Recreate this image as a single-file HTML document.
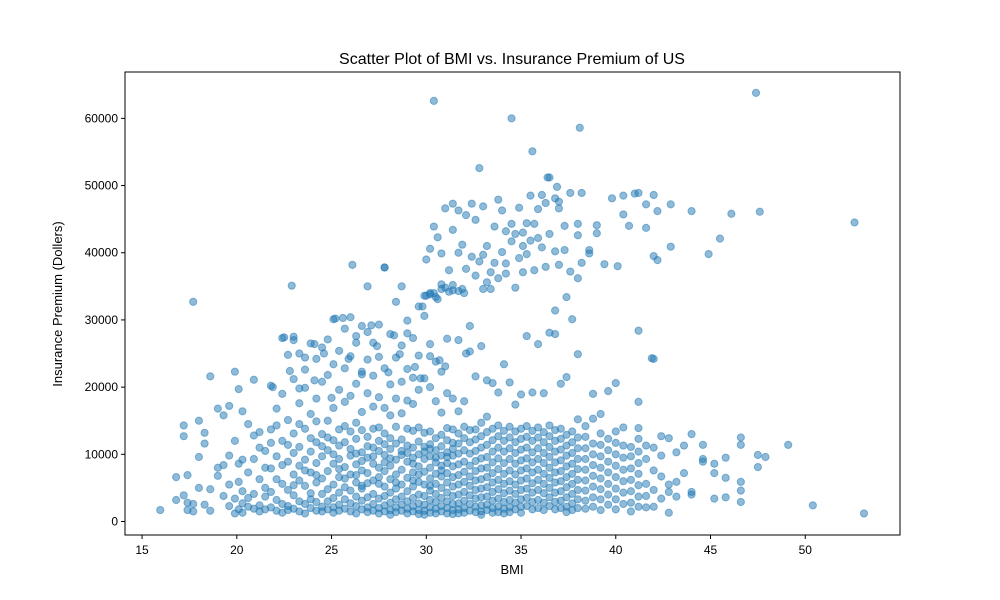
<!DOCTYPE html>
<html><head><meta charset="utf-8"><style>
body{margin:0;background:#fff;}
svg{display:block;font-family:"Liberation Sans","DejaVu Sans",sans-serif;}
</style></head><body>
<svg id="chart" width="1000" height="600">
<rect x="0" y="0" width="1000" height="600" fill="#fff"/>
<text x="512" y="64" text-anchor="middle" font-size="16">Scatter Plot of BMI vs. Insurance Premium of US</text>
<g id="marks"></g>
<rect x="125" y="72" width="775" height="463" fill="none" stroke="#000" stroke-width="1"/>
<g id="xt"></g>
<g id="yt"></g>
<text x="512" y="574" text-anchor="middle" font-size="13">BMI</text>
<text x="0" y="0" transform="translate(62,304) rotate(-90)" text-anchor="middle" font-size="13">Insurance Premium (Dollers)</text>
</svg>
<script>
const xTicks=[15,20,25,30,35,40,45,50];
const yTicks=[0,10000,20000,30000,40000,50000,60000];
// each row: [bmi, [charges...]]
const lowBand=[
[15.96,[1700]],[16.8,[6600,3200]],[17.2,[14300,12700,3900]],[17.4,[6900,2800,1700]],[17.7,[2600,1500]],[18.0,[15000,9600,5000]],[18.3,[13200,11600,2500]],[18.6,[21600,4800,1600]],[19.0,[8000,16800,6800]],[19.3,[8400,15800,3800]],[19.6,[17200,9800,5500,2300]],
[19.9,[22300,12000,3400,1200]],[20.1,[19700,8600,5900,1800]],[20.3,[16400,4500,2700,9200,1300]],[20.6,[14500,7300,2200,3500]],[20.9,[21100,9300,4100,1900,12800]],[21.2,[13300,6300,2400,1500,11000]],[21.5,[10500,5000,3700,1800,8000]],
[21.8,[20200,13700,7900,4400,2100,11700]],[22.1,[16800,9700,6300,3200,1600,14300]],[22.4,[27300,12000,5600,2600,1300,19000,8400]],[22.7,[24800,15100,8900,4700,2300,11400,1700]],[23.0,[27000,21200,13100,7000,3900,1900,10200,5400]],
[23.3,[25000,17600,11100,6100,3000,1500,8300,14500]],[23.6,[22600,13800,9200,5300,2600,1200,19900,7600]],[23.9,[26500,16000,12400,7300,4200,2000,10400,3300]],[24.2,[24200,18300,11800,8700,5800,2900,1600,14900,6900]],
[24.5,[25900,20800,13000,9700,6400,4100,2200,11200,1500]],[24.8,[27100,21800,15000,10600,7500,4800,3000,1800,12500]],[25.1,[30100,23400,16900,12100,8600,5500,3500,2100,1300,10000]],[25.4,[25400,19600,13700,9300,6600,4300,2500,1600,11300,7800]],
[25.7,[28700,22800,17800,11800,8100,5100,3300,1900,14200,6400]],[26.0,[30400,24600,18700,13400,9800,7000,4600,2700,1500,10800]],[26.3,[26600,20500,14700,12300,8500,5800,3700,2300,1200,10100,6900]],
[26.6,[29100,22300,16300,13600,10300,7600,4900,3100,1800,9000,5300]],[26.9,[28200,24100,19100,12600,9500,7200,5700,3600,2100,1400,11200]],[27.2,[26600,21700,17100,13800,11000,8600,6100,4100,2600,1600,9700]],
[27.5,[29300,24500,18500,14000,10500,8000,5600,3400,2000,1200,12000,6600]],[27.8,[37800,22800,16900,13100,9900,7500,5200,3800,2400,1500,11500,8800]],[28.1,[27900,20400,15800,12400,10800,8300,6300,4300,2800,1700,1000,9400]],
[28.4,[32700,24400,18300,14100,11600,9200,7000,4900,3300,2100,1400,5800]],[28.7,[35000,26200,20800,16100,12200,9900,7700,5500,3700,2500,1600,10500]],[29.0,[29900,22700,18000,13800,11300,8900,6500,4500,3000,1900,1200,10200]],
[29.3,[27300,21400,17500,13500,11000,8600,7300,5200,3500,2300,1500,9500,6100]],[29.6,[32000,24700,19600,14000,11900,10000,8200,5900,4000,2700,1700,1100,7000]],[29.9,[33600,30600,21300,13200,11100,9300,7400,5500,3800,2500,1600,1000,10400]],
[30.2,[34000,26400,20000,13400,11500,9700,8000,6400,4600,3200,2100,1300,10800,5300]],[30.5,[33400,23800,17900,12400,10600,8800,7100,5600,4100,2900,1900,1200,9500]],[30.8,[34600,22300,16200,12900,11200,9800,8300,6700,5000,3500,2300,1500,7600]],
[31.1,[27200,19100,13900,12100,10300,8700,7200,5800,4300,3000,2000,1200,9600]],[31.4,[34400,18300,13700,11700,9800,8200,6600,5200,3800,2600,1700,1100,10800]],[31.7,[27000,16400,13100,11600,10100,8500,6900,5500,4000,2700,1800,1200]],
[32.0,[34000,17900,14100,12400,10600,8900,7400,5900,4400,3100,2000,1300]],[32.3,[29100,25300,13600,11800,10100,8300,6700,5300,3900,2600,1600]],[32.6,[21600,13700,12200,10500,9000,7500,6100,4700,3400,2200,1400]],
[32.9,[26100,14700,12700,11000,9400,7900,6300,4900,3600,2400,1500,1000]],[33.2,[21000,15600,13300,11400,9600,8000,6600,5100,3700,2500,1700]],[33.5,[20600,13800,12100,10400,8800,7200,5800,4400,3100,2000,1300]],
[33.8,[19200,14300,12700,11000,9400,7800,6200,4800,3400,2200,1400]],[34.1,[23400,13500,12000,10400,8700,7100,5600,4200,2900,1900,1200]],[34.4,[20700,14100,12500,10900,9300,7600,6000,4600,3200,2100,1400]],
[34.7,[17400,13400,11800,10200,8600,7000,5500,4100,2800,1800]],[35.0,[18900,13800,12300,10700,9100,7600,6100,4700,3300,2200,1300]],[35.3,[27600,14200,12600,11000,9400,7900,6400,4900,3500,2300]],
[35.6,[19200,13500,12000,10300,8800,7300,5700,4300,2900,1800]],[35.9,[26400,14000,12500,10900,9300,7700,6200,4700,3200,2000]],[36.2,[19100,13300,11800,10200,8700,7100,5600,4200,2800,1700]],
[36.5,[28100,14300,12700,11100,9600,8000,6500,5000,3600,2300]],[36.8,[27900,31400,13600,12000,10400,8800,7300,5800,4300,2900,1800]],[37.1,[20500,13800,12300,10700,9100,7500,6000,4500,3100,2000]],
[37.4,[21500,33400,12900,11300,9800,8200,6600,5100,3600,2200,1400]],[37.7,[30100,13400,11800,10200,8600,7100,5600,4100,2700,1700]],[38.0,[24900,15200,12500,10900,9300,7800,6200,4700,3300,2000]],
[38.4,[14200,12600,10900,9300,7700,6100,4600,3100,1900]],[38.8,[19000,15300,11600,10000,8400,6800,5200,3600,2200]],[39.2,[16000,13100,11400,9700,8000,6400,4800,3300,1700]],
[39.6,[19400,12300,10600,8900,7300,5600,4000,2500]],[40.0,[20600,13400,11700,10000,8300,6600,4900,3300,1800]],[40.4,[14000,11300,9500,7700,6000,4300,2600]],
[40.8,[11100,9700,7900,6200,4500,2800,1500]],[41.2,[17800,13900,12300,10400,8700,7100,5400,3700,2200]],[41.6,[11300,9300,5600,3800,2100]],
[42.0,[24200,11000,7600,4700,2200]],[42.4,[12700,9800,6700,3400]],[42.8,[12400,5500,1300,4400]],[43.2,[10300,5900,3700]],[43.6,[11300,7200]],[44.0,[13000,4400,4000]],
[44.6,[11400,9300,8900]],[45.2,[8600,7200,3400]],[45.8,[9500,6500,3600]],[46.6,[12500,11400,5900,4600,2900]],[47.5,[8100,9900]],[47.9,[9600]],[49.1,[11400]],[50.4,[2400]],[53.1,[1200]]
];
const midBand=[
[17.7,[32700]],[22.9,[35100]],[26.1,[38200]],[27.8,[37800]],[26.9,[35000]],[25.2,[30200]],[25.6,[30300]],[22.5,[27400]],[23.0,[27500]],[24.1,[26400]],[26.3,[27600]],[27.1,[29200]],
[28.3,[27700]],[29.0,[28000]],[24.6,[25000]],[23.6,[24400]],[22.8,[22400]],[25.9,[24200]],[27.4,[26100]],[28.6,[24900]],[29.4,[23000]],[30.2,[24600]],[30.7,[24000]],[26.6,[21900]],
[24.1,[21000]],[28.0,[22200]],[23.3,[19800]],[21.9,[20000]],[25.0,[18400]],[29.7,[21300]],[31.0,[23100]],[32.1,[25000]]
];
const highBand=[
[29.8,[32000]],[30.0,[33600,39000]],[30.2,[33800,40600]],[30.4,[34000,43900]],[30.6,[33100,42300]],[30.8,[35300,39900]],[31.0,[34800,46600]],[31.2,[34200,37400]],[31.4,[35200,43400,47300]],
[31.7,[34300,40000,46300]],[31.9,[34600,41200]],[32.1,[37600,45600]],[32.4,[39400,47300]],[32.6,[44900,36600]],[32.8,[52600,38700]],[33.0,[39700,46900,34600]],[33.2,[35600,41000]],
[33.4,[34600,37100]],[33.6,[38500,43900]],[33.8,[47900,36200]],[34.0,[40100,46300]],[34.2,[43200,38400,36900]],[34.5,[41700,44300]],[34.7,[34800,42800]],[34.9,[46700,39200]],
[35.1,[41000,43000,37100]],[35.3,[39800,44400]],[35.5,[48500,41800]],[35.7,[37400,44300]],[35.9,[42200,46500]],[36.1,[40800,48600]],[36.3,[47400,37900]],[36.5,[42800,51200]],
[36.8,[40200,48100]],[37.0,[38200,46600,47600]],[37.3,[40400,44000]],[37.6,[37200,48900]],[38.0,[44300,36200,42600]],[38.2,[48900,38500]],[38.6,[40400,39900]],[39.0,[44100,42900]],
[39.4,[38300]],[39.8,[48100]],[40.1,[38000]],[40.4,[45700,48500]],[40.7,[44000]],[41.0,[48800]],[41.2,[48900]],[41.6,[47200,43700]],[42.0,[48600,39500]],[42.2,[46200,38900]],
[42.9,[47200,40900]],[44.0,[46200]],[44.9,[39800]],[45.5,[42100]],[46.1,[45800]],[47.6,[46100]],[52.6,[44500]]
];
const outliers=[
[30.4,[62600]],[34.5,[60000]],[35.6,[55100]],[38.1,[58600]],[47.4,[63800]],[36.4,[51200]],[36.9,[49800]],[41.2,[28400]],[41.9,[24300]]
];
const X0=125,X1=900,Y0=72,Y1=535,xmin=14.1,xmax=55.0,ymin=-2010,ymax=66902;
const sx=v=>X0+(v-xmin)/(xmax-xmin)*(X1-X0);
const sy=v=>Y1-(v-ymin)/(ymax-ymin)*(Y1-Y0);
const NS="http://www.w3.org/2000/svg";
const marks=document.getElementById('marks');
[lowBand,midBand,highBand,outliers].forEach(group=>{
  group.forEach(row=>{
    row[1].forEach(ch=>{
      const c=document.createElementNS(NS,'circle');
      c.setAttribute('cx',sx(row[0]));c.setAttribute('cy',sy(ch));c.setAttribute('r',3.6);
      c.setAttribute('fill','#1f77b4');c.setAttribute('fill-opacity','0.5');
      c.setAttribute('stroke','#1f77b4');c.setAttribute('stroke-opacity','0.5');c.setAttribute('stroke-width','1');
      
      
      marks.appendChild(c);
    });
  });
});
const xt=document.getElementById('xt');
xTicks.forEach(t=>{
  const x=sx(t);
  const l=document.createElementNS(NS,'line');
  l.setAttribute('x1',x);l.setAttribute('x2',x);l.setAttribute('y1',Y1);l.setAttribute('y2',Y1+4);l.setAttribute('stroke','#000');
  
  
  xt.appendChild(l);
  const s=document.createElementNS(NS,'text');
  s.setAttribute('x',x);s.setAttribute('y',Y1+19);s.setAttribute('text-anchor','middle');s.setAttribute('font-size','12');
  s.textContent=t;
  
  
  xt.appendChild(s);
});
const yt=document.getElementById('yt');
yTicks.forEach(t=>{
  const y=sy(t);
  const l=document.createElementNS(NS,'line');
  l.setAttribute('x1',X0-4);l.setAttribute('x2',X0);l.setAttribute('y1',y);l.setAttribute('y2',y);l.setAttribute('stroke','#000');
  
  
  yt.appendChild(l);
  const s=document.createElementNS(NS,'text');
  s.setAttribute('x',X0-7);s.setAttribute('y',y+4);s.setAttribute('text-anchor','end');s.setAttribute('font-size','12');
  s.textContent=t;
  
  
  yt.appendChild(s);
});
</script>
</body></html>
